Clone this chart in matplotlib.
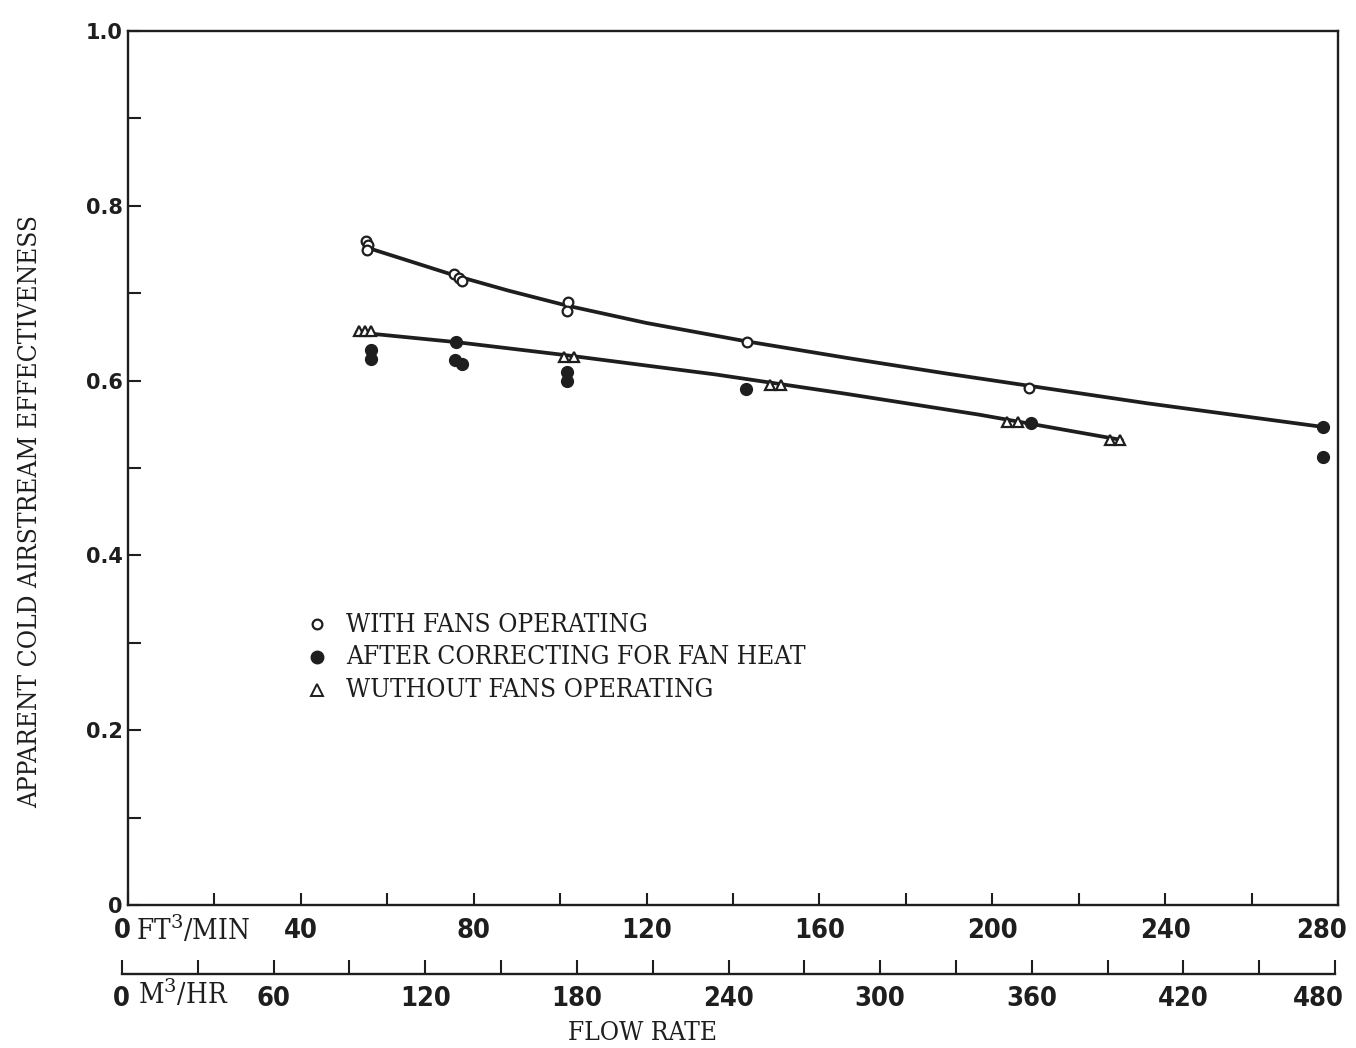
#!/usr/bin/env python3

# Apparent cold airstream effectiveness of the exchanger plotted against flow rate,
# with the fans running, after the fan heat correction and with the fans off.

import matplotlib
matplotlib.use('Agg')
import matplotlib.pyplot as plt
from matplotlib.ticker import MultipleLocator
from matplotlib.transforms import ScaledTranslation

# Axis ticks and their labels.
eff_ticks = [0.0, 0.2, 0.4, 0.6, 0.8, 1.0]
eff_labels = ['0', '0.2', '0.4', '0.6', '0.8', '1.0']
cfm_ticks = [0, 40, 80, 120, 160, 200, 240, 280]
cfm_labels = ['0', '40', '80', '120', '160', '200', '240', '280']
m3h_ticks = [0, 60, 120, 180, 240, 300, 360, 420, 480]
m3h_labels = ['0', '60', '120', '180', '240', '300', '360', '420', '480']

# Measured points, flow in ft3/min.
fans_on_x = [55.0, 55.6, 55.3, 75.5, 76.5, 77.2, 101.8, 101.6, 143.2, 208.6]
fans_on_y = [0.760, 0.755, 0.750, 0.722, 0.717, 0.714, 0.690, 0.680, 0.644, 0.591]

corrected_x = [56.3, 56.3, 76.0, 75.6, 77.4, 101.7, 101.7, 143.1, 209.0, 276.5, 276.6]
corrected_y = [0.635, 0.625, 0.644, 0.623, 0.619, 0.610, 0.599, 0.590, 0.551, 0.547, 0.513]

fans_off_x = [53.5, 54.8, 56.3, 100.8, 103.3, 148.5, 151.2, 203.5, 206.0, 227.3, 229.6]
fans_off_y = [0.657, 0.657, 0.657, 0.627, 0.627, 0.595, 0.595, 0.553, 0.553, 0.532, 0.532]

# Hand-drawn fitted curves.
upper_fit_x = [55.4, 65.0, 75.8, 88.0, 101.4, 119.9, 143.0, 166.3, 189.5, 208.6, 235.9, 276.5]
upper_fit_y = [0.752, 0.737, 0.720, 0.703, 0.686, 0.666, 0.645, 0.626, 0.608, 0.594, 0.574, 0.547]
lower_fit_x = [53.5, 76.0, 101.5, 136.0, 166.0, 197.0, 230.0]
lower_fit_y = [0.655, 0.644, 0.629, 0.607, 0.585, 0.561, 0.532]

legend_labels = ['WITH FANS OPERATING', 'AFTER CORRECTING FOR FAN HEAT', 'WUTHOUT FANS OPERATING']

ink = '#1e1e1e'
typed = dict(family='DejaVu Serif', stretch='condensed', size=18.8, color=ink)
lettered = dict(family='DejaVu Sans', stretch='condensed', weight='bold', size=19.5, color=ink)

plt.rcParams['mathtext.fontset'] = 'dejavuserif'

W, H = 1356, 1048
fig = plt.figure(figsize=(W / 100, H / 100), dpi=100)
fig.patch.set_facecolor('white')

# Main axes.
ax = fig.add_axes([128 / W, 1 - 905 / H, 1210 / W, 874 / H])
ax.set_xlim(0, 280)
ax.set_ylim(0, 1.0)
for side in ['left', 'bottom', 'right', 'top']:
    ax.spines[side].set_linewidth(1.7)
    ax.spines[side].set_color(ink)

ax.set_xticks(cfm_ticks)
ax.set_xticklabels(cfm_labels, fontdict=lettered)
ax.xaxis.set_minor_locator(MultipleLocator(20))
ax.set_yticks(eff_ticks)
ax.set_yticklabels(eff_labels, family='DejaVu Sans', weight='bold', size=15, color=ink)
ax.yaxis.set_minor_locator(MultipleLocator(0.1))
ax.tick_params(which='both', direction='in', length=9, width=1.5, color=ink)
ax.tick_params(axis='x', which='major', pad=9)
ax.tick_params(axis='y', which='major', pad=4)

# Curves, then the points on top.
ax.plot(upper_fit_x, upper_fit_y, color=ink, lw=2.7, solid_capstyle='round', zorder=2)
ax.plot(lower_fit_x, lower_fit_y, color=ink, lw=2.7, solid_capstyle='round', zorder=2)
ax.plot(fans_on_x, fans_on_y, 'o', ms=7, mfc='white', mec=ink, mew=1.6, zorder=3)
ax.plot(corrected_x, corrected_y, 'o', ms=8.5, mfc=ink, mec=ink, zorder=3)
ax.plot(fans_off_x, fans_off_y, '^', ms=7.5, mfc='white', mec=ink, mew=1.6, zorder=3)

# Key.
key_y = [0.3215, 0.2838, 0.2460]
key_style = [dict(marker='o', ms=7, mfc='white', mec=ink, mew=1.6),
             dict(marker='o', ms=9, mfc=ink, mec=ink),
             dict(marker='^', ms=9, mfc='white', mec=ink, mew=1.4)]
for yy, label, style in zip(key_y, legend_labels, key_style):
    ax.plot([0.1566], [yy], transform=ax.transAxes, clip_on=False, ls='none', **style)
    ax.text(0.1805, yy, label, transform=ax.transAxes, va='center', ha='left', **typed)

# Second flow scale in m3/hr.
ax2 = fig.add_axes([122 / W, 1 - 974 / H, 1213 / W, 0.0001])
ax2.set_xlim(0, 480)
ax2.set_ylim(0, 1)
for side in ['left', 'right', 'top']:
    ax2.spines[side].set_visible(False)
ax2.spines['bottom'].set_linewidth(1.7)
ax2.spines['bottom'].set_color(ink)
ax2.set_yticks([])
ax2.set_xticks(m3h_ticks)
ax2.set_xticklabels(m3h_labels, fontdict=lettered)
ax2.xaxis.set_minor_locator(MultipleLocator(30))
ax2.tick_params(which='both', direction='in', length=10, width=1.5, color=ink, pad=9)
ax2.patch.set_visible(False)

# Nudge the end labels of both scales: the last back inside the page,
# the zero clear of the unit text.
for axis, first_shift in [(ax, -0.06), (ax2, -0.01)]:
    labels = axis.get_xticklabels()
    labels[0].set_transform(labels[0].get_transform()
                            + ScaledTranslation(first_shift, 0, fig.dpi_scale_trans))
    labels[-1].set_transform(labels[-1].get_transform()
                             + ScaledTranslation(-0.17, 0, fig.dpi_scale_trans))

# Axis titles.
fig.text(136 / W, 1 - 940 / H, 'FT$^{3}$/MIN', ha='left', va='baseline',
         **{**typed, 'size': 20})
fig.text(138 / W, 1 - 1004 / H, 'M$^{3}$/HR', ha='left', va='baseline',
         **{**typed, 'size': 20})
fig.text(642 / W, 1 - 1032 / H, 'FLOW RATE', ha='center', va='center', **typed)
fig.text(30 / W, 1 - 512 / H, 'APPARENT COLD AIRSTREAM EFFECTIVENESS',
         rotation=90, ha='center', va='center', **typed)

fig.savefig('out.png', dpi=100)
plt.close(fig)
